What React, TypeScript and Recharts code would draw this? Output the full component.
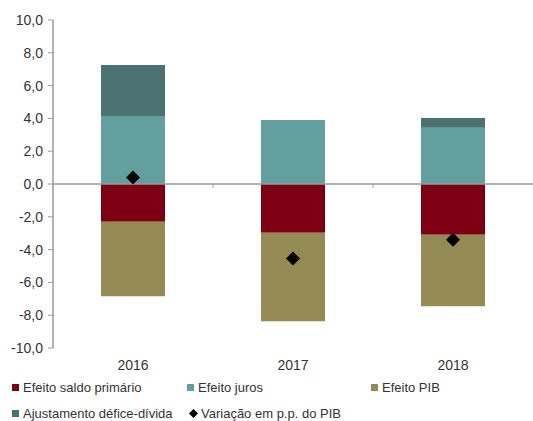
import React from 'react';
import { ComposedChart, Bar, Line, XAxis, YAxis, ReferenceLine, Legend } from 'recharts';

const years = ['2016', '2017', '2018'];
const saldoPrimario = [-2.3, -2.98, -3.1];
const efeitoJuros = [4.15, 3.84, 3.43];
const efeitoPIB = [-4.55, -5.39, -4.35];
const ajustamento = [3.1, 0.05, 0.59];
const variacao = [0.4, -4.55, -3.4];
const yTicks = [-10, -8, -6, -4, -2, 0, 2, 4, 6, 8, 10];

const data = years.map((y, i) => ({
  year: y,
  saldo: saldoPrimario[i],
  juros: efeitoJuros[i],
  pib: efeitoPIB[i],
  ajuste: ajustamento[i],
  variacao: variacao[i],
}));

const FONT = '"Liberation Sans", Arial, sans-serif';
const TEXT = '#333333';
const AXIS = '#9a9a9a';

const C_SALDO = '#7d0012';
const C_JUROS = '#62a0a0';
const C_PIB = '#948a54';
const C_AJUSTE = '#4a7270';

const legendItems = [
  { name: 'Efeito saldo primário', color: C_SALDO, kind: 'square', left: 12, top: 8 },
  { name: 'Efeito juros', color: C_JUROS, kind: 'square', left: 187, top: 8 },
  { name: 'Efeito PIB', color: C_PIB, kind: 'square', left: 371, top: 8 },
  { name: 'Ajustamento défice-dívida', color: C_AJUSTE, kind: 'square', left: 12, top: 34 },
  { name: 'Variação em p.p. do PIB', color: '#000000', kind: 'diamond', left: 189, top: 34 },
];

const LegendBox = () => (
  <div style={{ position: 'relative', width: 533, height: 49, fontFamily: FONT, fontSize: 13, color: TEXT }}>
    {legendItems.map((it) => (
      <div key={it.name} style={{ position: 'absolute', left: it.left, top: it.top, display: 'flex', alignItems: 'center', whiteSpace: 'nowrap', lineHeight: '15px' }}>
        {it.kind === 'square' ? (
          <svg width={8} height={8} style={{ marginRight: 3 }}>
            <rect x={0} y={0} width={7} height={7} fill={it.color} />
          </svg>
        ) : (
          <svg width={9} height={9} style={{ marginRight: 3 }}>
            <polygon points="4.5,0 9,4.5 4.5,9 0,4.5" fill={it.color} />
          </svg>
        )}
        <span>{it.name}</span>
      </div>
    ))}
  </div>
);

const Diamond = (props: any) => {
  const { cx, cy } = props;
  if (cx == null || cy == null) return null;
  const r = 7;
  return <polygon points={`${cx},${cy - r} ${cx + r},${cy} ${cx},${cy + r} ${cx - r},${cy}`} fill="#000" />;
};

const ZeroLine = (props: any) => {
  const { x1, y1, x2 } = props;
  const w = x2 - x1;
  const n = years.length;
  const ticks = [];
  for (let k = 1; k < n; k++) ticks.push(x1 + (w * k) / n);
  return (
    <g>
      <line x1={x1} y1={y1} x2={x2} y2={y1} stroke={AXIS} strokeWidth={1.5} />
      {ticks.map((t, i) => (
        <line key={i} x1={t} y1={y1} x2={t} y2={y1 + 4} stroke={AXIS} strokeWidth={1} />
      ))}
    </g>
  );
};

export default function App() {
  return (
    <div style={{ position: 'absolute', left: 0, top: 0, width: 533, height: 421, background: '#fff' }}>
      <ComposedChart
        width={533}
        height={421}
        data={data}
        stackOffset="sign"
        margin={{ top: 20, right: 0, bottom: 43, left: 0 }}
      >
        <XAxis
          dataKey="year"
          axisLine={false}
          tickLine={false}
          tickSize={0}
          tickMargin={12}
          height={30}
          tick={{ fill: TEXT, fontSize: 14, fontFamily: FONT }}
        />
        <YAxis
          width={53}
          domain={[-10, 10]}
          ticks={yTicks}
          interval={0}
          tickFormatter={(v: number) => v.toFixed(1).replace('.', ',')}
          axisLine={{ stroke: AXIS, strokeWidth: 1.5 }}
          tickLine={{ stroke: AXIS }}
          tickSize={5}
          tickMargin={5}
          tick={{ fill: TEXT, fontSize: 14, fontFamily: FONT }}
        />
        <Bar dataKey="saldo" stackId="s" fill={C_SALDO} barSize={64} isAnimationActive={false} name="Efeito saldo primário" />
        <Bar dataKey="juros" stackId="s" fill={C_JUROS} barSize={64} isAnimationActive={false} name="Efeito juros" />
        <Bar dataKey="pib" stackId="s" fill={C_PIB} barSize={64} isAnimationActive={false} name="Efeito PIB" />
        <Bar dataKey="ajuste" stackId="s" fill={C_AJUSTE} barSize={64} isAnimationActive={false} name="Ajustamento défice-dívida" />
        <ReferenceLine y={0} shape={(p: any) => <ZeroLine {...p} />} ifOverflow="visible" />
        <Line
          dataKey="variacao"
          stroke="none"
          dot={<Diamond />}
          activeDot={false}
          isAnimationActive={false}
          name="Variação em p.p. do PIB"
        />
        <Legend
          layout="horizontal"
          verticalAlign="middle"
          align="center"
          wrapperStyle={{ position: 'absolute', left: 0, top: 372, width: 533, height: 49 }}
          content={() => <LegendBox />}
        />
      </ComposedChart>
    </div>
  );
}
